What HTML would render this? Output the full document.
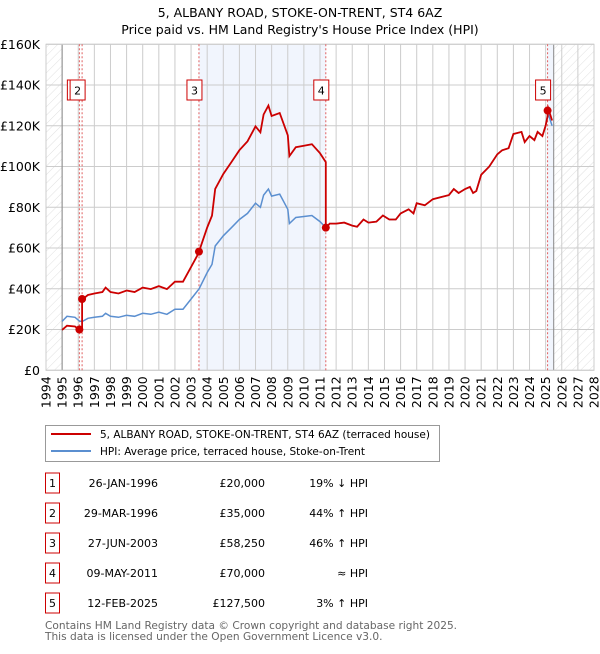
<!DOCTYPE html>
<html><head><meta charset="utf-8"><style>
body{margin:0;background:#fff;font-family:"DejaVu Sans","Liberation Sans",sans-serif;}
svg text{font-family:"DejaVu Sans","Liberation Sans",sans-serif;}
</style></head><body>
<svg id="chart" width="600" height="650" viewBox="0 0 600 650" xmlns="http://www.w3.org/2000/svg">
<defs>
<pattern id="hatch" width="6" height="6" patternUnits="userSpaceOnUse" patternTransform="rotate(45)">
<line x1="0" y1="0" x2="0" y2="6" stroke="#d8d8d8" stroke-width="0.8"/></pattern>
</defs>
<text x="300" y="17" text-anchor="middle" font-size="12.5">5, ALBANY ROAD, STOKE-ON-TRENT, ST4 6AZ</text>
<text x="300" y="34" text-anchor="middle" font-size="12.5">Price paid vs. HM Land Registry's House Price Index (HPI)</text>
<g id="plot"></g>
<rect x="45.5" y="425.5" width="394" height="36" fill="#fff" stroke="#999"/>
<line x1="51" y1="434" x2="91" y2="434" stroke="#cc0000" stroke-width="2"/>
<text x="100" y="438" font-size="10.5">5, ALBANY ROAD, STOKE-ON-TRENT, ST4 6AZ (terraced house)</text>
<line x1="51" y1="451" x2="91" y2="451" stroke="#5b8fd0" stroke-width="2"/>
<text x="100" y="455" font-size="10.5">HPI: Average price, terraced house, Stoke-on-Trent</text>
<g id="table"></g>
<text x="45" y="629" font-size="10.6" fill="#666">Contains HM Land Registry data © Crown copyright and database right 2025.</text>
<text x="45" y="640" font-size="10.6" fill="#666">This data is licensed under the Open Government Licence v3.0.</text>
</svg>
<script>
const hpiYears=[1995.0,1995.3,1995.8,1996.1,1996.3,1996.6,1997.0,1997.5,1997.7,1998.0,1998.5,1999.0,1999.5,2000.0,2000.5,2001.0,2001.5,2002.0,2002.5,2003.0,2003.5,2004.0,2004.3,2004.5,2005.0,2005.5,2006.0,2006.5,2007.0,2007.3,2007.5,2007.8,2008.0,2008.5,2009.0,2009.1,2009.5,2010.0,2010.5,2011.0,2011.36,2011.6,2012.0,2012.5,2013.0,2013.3,2013.7,2014.0,2014.5,2014.9,2015.3,2015.7,2016.0,2016.5,2016.8,2017.0,2017.5,2018.0,2018.5,2019.0,2019.3,2019.6,2020.0,2020.3,2020.5,2020.7,2021.0,2021.5,2022.0,2022.3,2022.7,2023.0,2023.5,2023.7,2024.0,2024.3,2024.5,2024.8,2025.0,2025.15,2025.4];
const hpiValues=[24000,26500,26000,24000,24200,25500,26000,26500,28000,26500,26000,27000,26500,28000,27500,28500,27500,30000,30000,35000,40000,48000,52000,61000,66000,70000,74000,77000,82000,80000,86000,89000,85500,86500,79000,72000,75000,75500,76000,73000,70000,72000,72000,72500,71000,70500,74000,72500,73000,76000,74000,74000,77000,79000,77000,82000,81000,84000,85000,86000,89000,87000,89000,90000,87000,88000,96000,100000,106000,108000,109000,116000,117000,112000,115000,113000,117000,115000,120000,126000,120000];
const saleYears=[1996.07,1996.24,2003.49,2011.36,2025.12];
const salePrices=[20000,35000,58250,70000,127500];
const saleLabels=["1","2","3","4","5"];
const saleDates=["26-JAN-1996","29-MAR-1996","27-JUN-2003","09-MAY-2011","12-FEB-2025"];
const salePriceText=["£20,000","£35,000","£58,250","£70,000","£127,500"];
const saleHpiText=["19% ↓ HPI","44% ↑ HPI","46% ↑ HPI","≈ HPI","3% ↑ HPI"];
const yTicks=[0,20000,40000,60000,80000,100000,120000,140000,160000];
const yTickLabels=["£0","£20K","£40K","£60K","£80K","£100K","£120K","£140K","£160K"];
const xTicks=[1994,1995,1996,1997,1998,1999,2000,2001,2002,2003,2004,2005,2006,2007,2008,2009,2010,2011,2012,2013,2014,2015,2016,2017,2018,2019,2020,2021,2022,2023,2024,2025,2026,2027,2028];

const NS="http://www.w3.org/2000/svg";
const X0=46,X1=594,Y0=370.3,Y1=44.3,YR0=1994,YR1=2028,VMAX=160000;
const xs=y=>X0+(y-YR0)/(YR1-YR0)*(X1-X0);
const ys=v=>Y0-v/VMAX*(Y0-Y1);
const plot=document.getElementById('plot');
function mk(tag,attrs,parent){const e=document.createElementNS(NS,tag);for(const k in attrs)e.setAttribute(k,attrs[k]);(parent||plot).appendChild(e);return e;}
function hpiAt(t){for(let i=0;i<hpiYears.length-1;i++){if(t>=hpiYears[i]&&t<=hpiYears[i+1]){const f=(t-hpiYears[i])/(hpiYears[i+1]-hpiYears[i]);return hpiValues[i]+f*(hpiValues[i+1]-hpiValues[i]);}}return hpiValues[hpiValues.length-1];}

let e;
e=mk('rect',{x:X0,y:Y1,width:X1-X0,height:Y0-Y1,fill:'#fff'});


e=mk('rect',{x:X0,y:Y1,width:xs(1995)-X0,height:Y0-Y1,fill:'url(#hatch)'});


e=mk('rect',{x:xs(2025.5),y:Y1,width:X1-xs(2025.5),height:Y0-Y1,fill:'url(#hatch)'});


e=mk('rect',{x:xs(saleYears[2]),y:Y1,width:xs(saleYears[3])-xs(saleYears[2]),height:Y0-Y1,fill:'#f1f5fd'});


e=mk('rect',{x:xs(saleYears[4]),y:Y1,width:xs(2025.5)-xs(saleYears[4]),height:Y0-Y1,fill:'#f1f5fd'});



xTicks.forEach(t=>{
  const x=xs(t);
  e=mk('line',{x1:x,y1:Y1,x2:x,y2:Y0,stroke:'#ccc','stroke-width':1});
  
  
  e=mk('text',{x:0,y:0,'font-size':12.5,'text-anchor':'end',transform:`translate(${x+4.5},${Y0+6}) rotate(-90)`});
  e.textContent=String(t);
  
  
});
yTicks.forEach((v,i)=>{
  const y=ys(v);
  e=mk('line',{x1:X0,y1:y,x2:X1,y2:y,stroke:'#ccc','stroke-width':1});
  
  
  e=mk('text',{x:40,y:y+4.5,'font-size':12.5,'text-anchor':'end'});
  e.textContent=yTickLabels[i];
  
  
});
[1995,2025.5].forEach(t=>{
  e=mk('line',{x1:xs(t),y1:Y1,x2:xs(t),y2:Y0,stroke:'#888','stroke-width':1});
  
  
});
e=mk('rect',{x:X0,y:Y1,width:X1-X0,height:Y0-Y1,fill:'none',stroke:'#ccc'});



saleYears.forEach(t=>{
  e=mk('line',{x1:xs(t),y1:Y1,x2:xs(t),y2:Y0,stroke:'#e06060','stroke-width':1,'stroke-dasharray':'2,2'});
  
  
});

let d='';
hpiYears.forEach((t,i)=>{d+=(i?'L':'M')+xs(t).toFixed(1)+','+ys(hpiValues[i]).toFixed(1);});
e=mk('path',{d:d,fill:'none',stroke:'#5b8fd0','stroke-width':1.5});



function factorAt(t){let k=0;for(let i=0;i<saleYears.length;i++){if(t>=saleYears[i])k=i;}return salePrices[k]/hpiAt(saleYears[k]);}
const pts=[];
hpiYears.forEach((t,i)=>{
  saleYears.forEach((s,j)=>{const prev=i?hpiYears[i-1]:-1e9;if(s>prev&&s<=t){const f0=j?salePrices[j-1]/hpiAt(saleYears[j-1]):salePrices[0]/hpiAt(saleYears[0]);pts.push([s,hpiAt(s)*f0]);pts.push([s,salePrices[j]]);}});
  pts.push([t,hpiValues[i]*factorAt(t)]);
});
d='';
pts.forEach((p,i)=>{d+=(i?'L':'M')+xs(p[0]).toFixed(1)+','+ys(p[1]).toFixed(1);});
e=mk('path',{d:d,fill:'none',stroke:'#cc0000','stroke-width':1.8});



saleYears.forEach((t,i)=>{
  e=mk('circle',{cx:xs(t),cy:ys(salePrices[i]),r:4,fill:'#cc0000'});
  
  
});
saleYears.forEach((t,i)=>{
  const bx=xs(t)-12;
  e=mk('rect',{x:bx,y:80,width:15,height:20,fill:'#fff',stroke:'#cc0000'});
  
  
  e=mk('text',{x:bx+7.5,y:94.5,'font-size':11,'text-anchor':'middle'});
  e.textContent=saleLabels[i];
  
  
});

const tbl=document.getElementById('table');
saleYears.forEach((t,i)=>{
  const cy=483+i*30;
  e=mk('rect',{x:45.5,y:cy-10,width:14,height:20,fill:'#fff',stroke:'#cc0000'},tbl);
  
  
  e=mk('text',{x:52.5,y:cy+4,'font-size':11,'text-anchor':'middle'},tbl);
  e.textContent=saleLabels[i];
  
  
  e=mk('text',{x:158,y:cy+4,'font-size':11,'text-anchor':'end'},tbl);
  e.textContent=saleDates[i];
  
  
  e=mk('text',{x:265,y:cy+4,'font-size':11,'text-anchor':'end'},tbl);
  e.textContent=salePriceText[i];
  
  
  e=mk('text',{x:368,y:cy+4,'font-size':11,'text-anchor':'end'},tbl);
  e.textContent=saleHpiText[i];
  
  
});
</script>
</body></html>
